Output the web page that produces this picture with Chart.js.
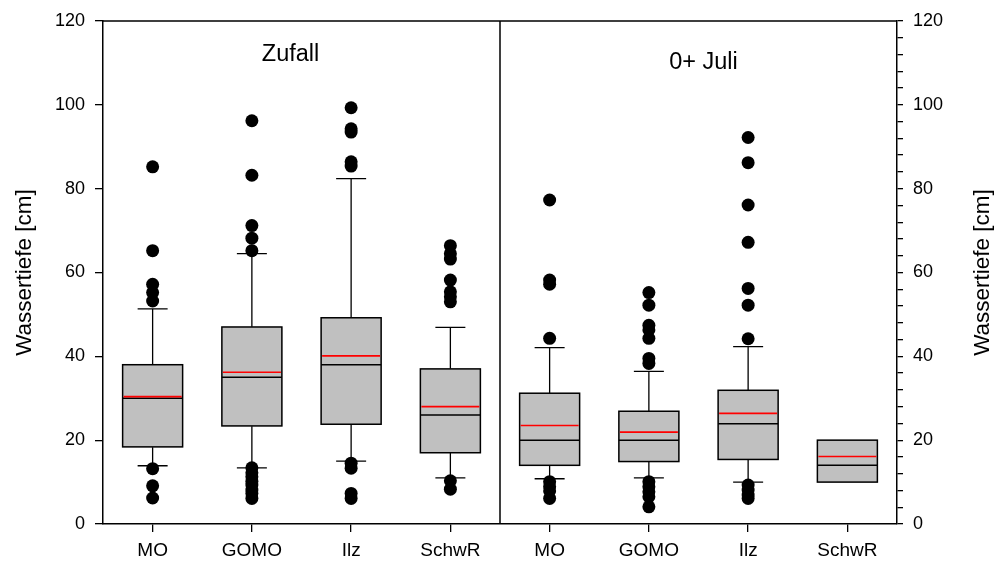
<!DOCTYPE html>
<html>
<head>
<meta charset="utf-8">
<script src="https://cdn.jsdelivr.net/npm/chart.js@4.4.0/dist/chart.umd.min.js"></script>
<style>
  html, body { margin: 0; padding: 0; background: #fff; }
</style>
</head>
<body>
<canvas id="grafico" width="995" height="562"></canvas>
<script>
// Gruppen (zwei Panels zu je 4 Gewässern)
const gruppen = ["MO", "GOMO", "Ilz", "SchwR", "MO", "GOMO", "Ilz", "SchwR"];
const panelTitel = ["Zufall", "0+ Juli"];
const achsenTitel = "Wassertiefe [cm]";

// Boxplot-Kennwerte (Wassertiefe in cm)
const q1 = [18.4, 23.4, 23.8, 17.0, 14.0, 14.9, 15.4, 10.0];
const q3 = [38.0, 47.0, 49.2, 37.0, 31.2, 26.9, 31.9, 20.0];
const median = [30.0, 35.0, 38.0, 26.0, 20.0, 20.0, 23.9, 14.0];
const mittelwert = [30.4, 36.2, 40.1, 28.0, 23.5, 21.9, 26.4, 16.1];
const whiskerOben = [51.3, 64.5, 82.4, 46.9, 42.1, 36.4, 42.3, null];
const whiskerUnten = [13.9, 13.4, 15.0, 11.0, 10.8, 11.0, 10.0, null];

// Ausreißer je Gruppe
const ausreisser = [
  [85.2, 65.2, 57.2, 55.2, 53.2, 13.2, 9.1, 6.2],
  [96.2, 83.2, 71.2, 68.2, 65.2, 13.4, 12.2, 11.3, 10.2, 9.3, 8.1, 7.3, 6.1],
  [99.3, 94.3, 93.5, 86.4, 85.4, 14.5, 13.3, 7.3, 6.1],
  [66.4, 64.5, 63.2, 58.2, 55.4, 54.2, 53.0, 10.3, 8.3],
  [77.3, 58.2, 57.2, 44.3, 10.1, 8.9, 7.9, 6.1],
  [55.2, 52.2, 47.4, 46.3, 44.3, 39.5, 38.3, 10.1, 8.9, 7.7, 6.5, 4.1],
  [92.2, 86.2, 76.1, 67.2, 56.2, 52.2, 44.2, 9.3, 8.1, 6.9, 6.1],
  []
];

const yMin = 0, yMax = 120, ySchritt = 20, yNebenSchritt = 4;

const boxen = gruppen.map((g, i) => [q1[i], q3[i]]);
const punkte = [];
ausreisser.forEach((werte, i) => werte.forEach(v => punkte.push({ x: i, y: v })));

const schrift = "'Liberation Sans', Arial, sans-serif";

// Whisker, Median, Mittelwert, Trennlinie und Titel
const boxPlot = {
  id: "boxPlot",
  beforeDatasetsDraw(chart) {
    const { ctx, scales: { xl, y } } = chart;
    ctx.save();
    ctx.strokeStyle = "#000";
    ctx.lineWidth = 1.3;
    gruppen.forEach((g, i) => {
      if (whiskerOben[i] == null) return;
      const cx = xl.getPixelForValue(i);
      const halb = 15;
      [[q3[i], whiskerOben[i]], [q1[i], whiskerUnten[i]]].forEach(([von, bis]) => {
        ctx.beginPath();
        ctx.moveTo(cx, y.getPixelForValue(von));
        ctx.lineTo(cx, y.getPixelForValue(bis));
        ctx.moveTo(cx - halb, y.getPixelForValue(bis));
        ctx.lineTo(cx + halb, y.getPixelForValue(bis));
        ctx.stroke();
      });
    });
    ctx.restore();
  },
  afterDatasetsDraw(chart) {
    const { ctx, chartArea, scales: { xl, y } } = chart;
    const bars = chart.getDatasetMeta(0).data;
    ctx.save();
    ctx.lineWidth = 1.5;
    gruppen.forEach((g, i) => {
      const b = bars[i];
      const l = b.x - b.width / 2, r = b.x + b.width / 2;
      ctx.strokeStyle = "#000";
      ctx.beginPath();
      ctx.moveTo(l, y.getPixelForValue(median[i]));
      ctx.lineTo(r, y.getPixelForValue(median[i]));
      ctx.stroke();
      ctx.strokeRect(l, y.getPixelForValue(q3[i]), r - l, y.getPixelForValue(q1[i]) - y.getPixelForValue(q3[i]));
      ctx.strokeStyle = "#ff0000";
      ctx.lineWidth = 1.7;
      ctx.beginPath();
      ctx.moveTo(l + 1, y.getPixelForValue(mittelwert[i]));
      ctx.lineTo(r - 1, y.getPixelForValue(mittelwert[i]));
      ctx.stroke();
      ctx.lineWidth = 1.5;
    });

    // Rahmen oben und Trennlinie zwischen den Panels
    ctx.strokeStyle = "#000";
    ctx.lineWidth = 1.5;
    ctx.beginPath();
    ctx.moveTo(chartArea.left, chartArea.top);
    ctx.lineTo(chartArea.right, chartArea.top);
    const mitte = xl.getPixelForValue(3.5);
    ctx.moveTo(mitte, chartArea.top);
    ctx.lineTo(mitte, chartArea.bottom);
    ctx.stroke();

    // Panel-Titel
    ctx.fillStyle = "#000";
    ctx.font = "23.5px " + schrift;
    ctx.textAlign = "center";
    ctx.textBaseline = "middle";
    ctx.fillText(panelTitel[0], xl.getPixelForValue(1.39), y.getPixelForValue(112));
    ctx.fillText(panelTitel[1], xl.getPixelForValue(5.55), y.getPixelForValue(110));

    // Achsentitel links und rechts
    ctx.font = "22.5px " + schrift;
    const ym = (chartArea.top + chartArea.bottom) / 2;
    [25, 983].forEach(xp => {
      ctx.save();
      ctx.translate(xp, ym);
      ctx.rotate(-Math.PI / 2);
      ctx.fillText(achsenTitel, 0, 0);
      ctx.restore();
    });
    ctx.restore();
  }
};

const grafico = new Chart(
  document.querySelector("#grafico"),
  {
    type: "bar",
    data: {
      labels: gruppen,
      datasets: [
        {
          type: "bar",
          data: boxen,
          backgroundColor: "#c0c0c0",
          borderColor: "#000",
          borderWidth: 0,
          grouped: false,
          barThickness: 60,
          xAxisID: "x",
          yAxisID: "y",
          order: 2
        },
        {
          type: "scatter",
          data: punkte,
          xAxisID: "xl",
          yAxisID: "y",
          pointRadius: 6.5,
          backgroundColor: "#000",
          borderWidth: 0,
          order: 1
        }
      ]
    },
    options: {
      responsive: false,
      animation: false,
      layout: { padding: { top: 21, left: 0, right: 0, bottom: 0 } },
      plugins: { legend: { display: false }, tooltip: { enabled: false } },
      scales: {
        x: {
          type: "category",
          position: "bottom",
          offset: true,
          grid: { drawOnChartArea: false, drawTicks: true, tickLength: 8, color: "#000", lineWidth: 1.3, offset: false },
          border: { color: "#000", width: 1.5 },
          ticks: { color: "#000", font: { family: schrift, size: 19 }, padding: 7, maxRotation: 0, autoSkip: false },
          afterFit: s => { s.height = 38; }
        },
        xl: { type: "linear", display: false, offset: false, min: -0.5, max: 7.5 },
        y: {
          position: "left",
          min: yMin,
          max: yMax,
          grid: { drawOnChartArea: false, tickLength: 8, color: "#000", lineWidth: 1.3 },
          border: { color: "#000", width: 1.5 },
          ticks: { stepSize: ySchritt, color: "#000", font: { family: schrift, size: 18 }, padding: 10 },
          afterFit: s => { s.width = 103; }
        },
        y2: {
          position: "right",
          min: yMin,
          max: yMax,
          grid: { drawOnChartArea: false, tickLength: 6, color: "#000", lineWidth: 1.3 },
          border: { color: "#000", width: 1.5 },
          ticks: {
            stepSize: yNebenSchritt,
            autoSkip: false,
            maxTicksLimit: 40,
            color: "#000",
            font: { family: schrift, size: 18 },
            padding: 10,
            callback: v => (v % ySchritt === 0 ? v : "")
          },
          afterFit: s => { s.width = 98; }
        }
      }
    },
    plugins: [boxPlot]
  }
);
</script>
</body>
</html>
